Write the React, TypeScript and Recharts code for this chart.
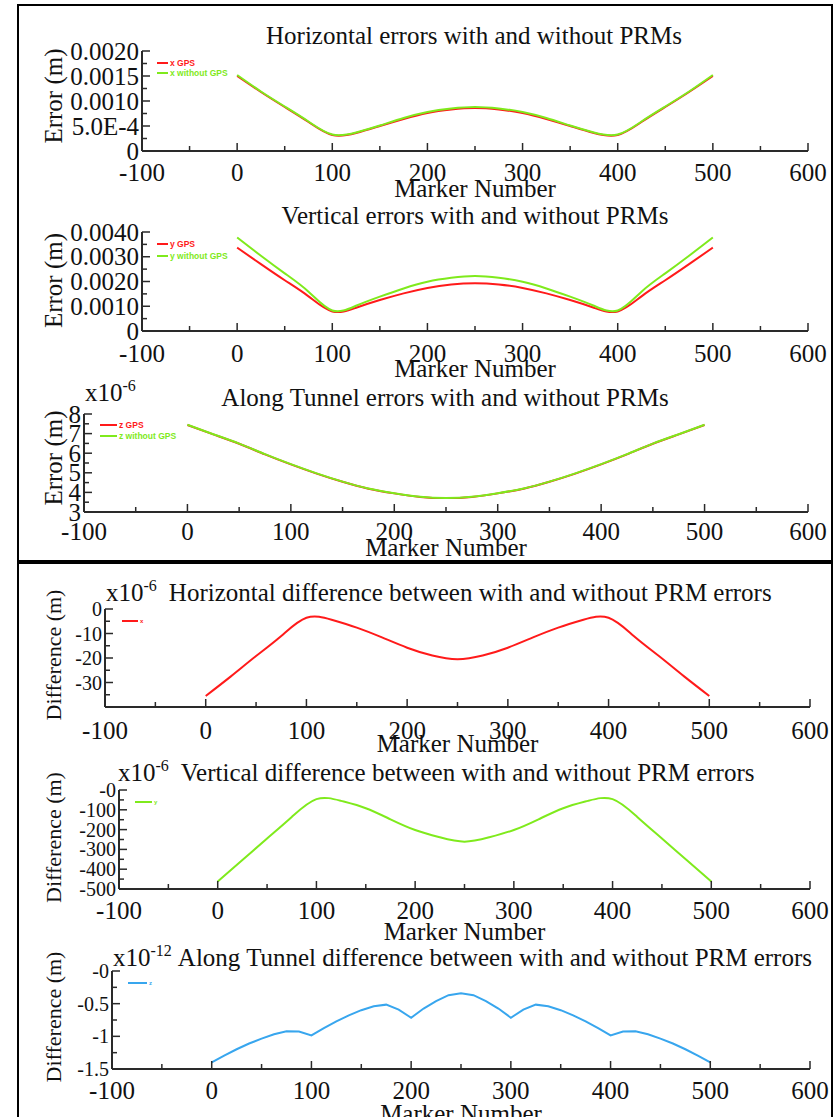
import React from 'react';
import { LineChart, Line, XAxis, YAxis, Legend } from 'recharts';

// marker numbers used for the smooth curves (panels 1-5), evenly spaced for the spline
const markers = [0, 25, 50, 75, 100, 125, 150, 175, 200, 225, 250, 275, 300, 325, 350, 375, 400, 425, 450, 475, 500];

const xGps = [0.0015, 0.00118, 0.00088, 0.00058, 0.00032, 0.00036, 0.0005, 0.00064, 0.00076, 0.00083, 0.00086, 0.00083, 0.00076, 0.00064, 0.0005, 0.00036, 0.00032, 0.00058, 0.00088, 0.00118, 0.0015];
const xNoGps = [0.00152, 0.00119, 0.00089, 0.00059, 0.00033, 0.00037, 0.00051, 0.00066, 0.00078, 0.00085, 0.00088, 0.00085, 0.00078, 0.00066, 0.00051, 0.00037, 0.00033, 0.00059, 0.00089, 0.00119, 0.00152];
const yGps = [0.00337, 0.0027, 0.00205, 0.0014, 0.00079, 0.00094, 0.00125, 0.00152, 0.00174, 0.00188, 0.00193, 0.00188, 0.00174, 0.00152, 0.00125, 0.00094, 0.00079, 0.0014, 0.00205, 0.0027, 0.00337];
const yNoGps = [0.00378, 0.00304, 0.00233, 0.00159, 0.00083, 0.00102, 0.00139, 0.00172, 0.00199, 0.00215, 0.00222, 0.00215, 0.00199, 0.00172, 0.00139, 0.00102, 0.00083, 0.00159, 0.00233, 0.00304, 0.00378];
const zGps = [7.44, 6.96, 6.48, 5.94, 5.43, 4.96, 4.54, 4.19, 3.95, 3.77, 3.71, 3.77, 3.95, 4.19, 4.54, 4.96, 5.43, 5.94, 6.48, 6.96, 7.44];
const zNoGps = [7.45, 6.97, 6.49, 5.95, 5.44, 4.97, 4.55, 4.2, 3.96, 3.78, 3.72, 3.78, 3.96, 4.2, 4.55, 4.97, 5.44, 5.95, 6.49, 6.97, 7.45];
const xDiff = [-35.5, -27.5, -19.2, -11, -3.6, -4.4, -7.6, -11.6, -15.8, -19, -20.5, -19, -15.8, -11.6, -7.6, -4.4, -3.6, -11, -19.2, -27.5, -35.5];
const yDiff = [-462, -354, -245, -136, -46, -55, -92, -148, -202, -239, -261, -239, -202, -148, -92, -55, -46, -136, -245, -354, -462];

// along-tunnel difference has cusps, so it gets a finer marker list
const markersFine = [0, 12.5, 25, 37.5, 50, 62.5, 75, 87.5, 100, 112.5, 125, 137.5, 150, 162.5, 175, 187.5, 200, 212.5, 225, 237.5, 250, 262.5, 275, 287.5, 300, 312.5, 325, 337.5, 350, 362.5, 375, 387.5, 400, 412.5, 425, 437.5, 450, 462.5, 475, 487.5, 500];
const zDiff = [-1.4, -1.295, -1.198, -1.11, -1.035, -0.968, -0.922, -0.925, -0.985, -0.875, -0.772, -0.68, -0.6, -0.54, -0.515, -0.59, -0.715, -0.575, -0.46, -0.37, -0.34, -0.37, -0.46, -0.575, -0.715, -0.59, -0.515, -0.54, -0.6, -0.68, -0.772, -0.875, -0.985, -0.925, -0.922, -0.968, -1.035, -1.11, -1.198, -1.295, -1.4];

const xTicks = [-100, -50, 0, 50, 100, 150, 200, 250, 300, 350, 400, 450, 500, 550, 600];
const xMajor = [-100, 0, 100, 200, 300, 400, 500, 600];

const y1Major = [0, 0.0005, 0.001, 0.0015, 0.002];
const y1Labels = ['0', '5.0E-4', '0.0010', '0.0015', '0.0020'];
const y1Minor = [0.00025, 0.00075, 0.00125, 0.00175];
const y2Major = [0, 0.001, 0.002, 0.003, 0.004];
const y2Labels = ['0', '0.0010', '0.0020', '0.0030', '0.0040'];
const y2Minor = [0.0005, 0.0015, 0.0025, 0.0035];
const y3Major = [3, 4, 5, 6, 7, 8];
const y3Labels = ['3', '4', '5', '6', '7', '8'];
const y3Minor = [3.5, 4.5, 5.5, 6.5, 7.5];
const y4Major = [0, -10, -20, -30, -40];
const y4Labels = ['0', '-10', '-20', '-30', ''];
const y4Minor = [-5, -15, -25, -35];
const y5Major = [0, -100, -200, -300, -400, -500];
const y5Labels = ['-0', '-100', '-200', '-300', '-400', '-500'];
const y5Minor = [-50, -150, -250, -350, -450];
const y6Major = [0, -0.5, -1, -1.5];
const y6Labels = ['-0', '-0.5', '-1', '-1.5'];
const y6Minor = [-0.25, -0.75, -1.25];

const RED = '#ff1a1a';
const GREEN = '#7fea1c';
const BLUE = '#38a6ee';
const FRAME = '#2a2a2a';
const SERIF = '"Liberation Serif", "Times New Roman", serif';
const SANS = '"Liberation Sans", Arial, sans-serif';
const W = 834;
const PAD = 40;
const XAXIS_H = 70;

type Series = { name: string; values: number[]; color: string };

interface PanelProps {
  top: number;
  bottom: number;
  left: number;
  right: number;
  x: number[];
  series: Series[];
  curve: 'natural' | 'linear';
  yDomain: [number, number];
  yMajor: number[];
  yLabels: string[];
  yMinor: number[];
  yFont: number;
  yTitle: string;
  yTitleFont: number;
  yTitleShift: number;
  xLabelGap: number;
  xTitleGap: number;
  legendTop: number;
  legendLeft: number;
  legendLine: number;
  legendRow: number;
  legendFont: number;
}

function Panel(p: PanelProps) {
  const chartTop = p.top - PAD;
  const plotBottom = PAD + (p.bottom - p.top);
  const midY = PAD + (p.bottom - p.top) / 2 + p.yTitleShift;
  const data = p.x.map((m, i) => {
    const row: Record<string, number> = { m };
    p.series.forEach(s => { row[s.name] = s.values[i]; });
    return row;
  });
  const yTicks = [...p.yMajor, ...p.yMinor].sort((a, b) => a - b);
  const line = { stroke: FRAME, strokeWidth: 2 };

  const bottomTick = (t: any) => {
    const v = t.payload.value;
    const major = xMajor.includes(v);
    return (
      <g>
        <line x1={t.x} x2={t.x} y1={plotBottom} y2={plotBottom - (major ? 8 : 5)} stroke={FRAME} strokeWidth={1.5} />
        {major && (
          <text x={t.x} y={plotBottom + p.xLabelGap} textAnchor="middle" dominantBaseline="central" fontFamily={SERIF} fontSize={25} fill="#111">{v}</text>
        )}
      </g>
    );
  };
  const topTick = (t: any) => {
    const major = xMajor.includes(t.payload.value);
    return <line x1={t.x} x2={t.x} y1={PAD} y2={PAD + (major ? 8 : 5)} stroke={FRAME} strokeWidth={1.5} />;
  };
  const leftTick = (t: any) => {
    const idx = p.yMajor.indexOf(t.payload.value);
    return (
      <g>
        <line x1={p.left} x2={p.left + (idx >= 0 ? 8 : 5)} y1={t.y} y2={t.y} stroke={FRAME} strokeWidth={1.5} />
        {idx >= 0 && (
          <text x={p.left - 3} y={t.y} textAnchor="end" dominantBaseline="central" fontFamily={SERIF} fontSize={p.yFont} fill="#111">{p.yLabels[idx]}</text>
        )}
      </g>
    );
  };
  const rightTick = (t: any) => {
    const major = p.yMajor.includes(t.payload.value);
    return <line x1={p.right} x2={p.right - (major ? 8 : 5)} y1={t.y} y2={t.y} stroke={FRAME} strokeWidth={1.5} />;
  };

  const xTitle = () => (
    <text x={(p.left + p.right) / 2} y={plotBottom + p.xTitleGap} textAnchor="middle" dominantBaseline="central" fontFamily={SERIF} fontSize={25} fill="#111">Marker Number</text>
  );
  const yTitle = () => (
    <text x={53} y={midY} transform={`rotate(-90, 53, ${midY})`} textAnchor="middle" dominantBaseline="central" fontFamily={SERIF} fontSize={p.yTitleFont} fill="#111">{p.yTitle}</text>
  );

  const legend = (props: any) => (
    <div>
      {(props.payload || []).map((e: any) => (
        <div key={e.value} style={{ display: 'flex', alignItems: 'center', height: p.legendRow }}>
          <span style={{ width: p.legendLine, height: 2, background: e.color, marginRight: 2 }} />
          <span style={{ color: e.color, fontFamily: SANS, fontWeight: 'bold', fontSize: p.legendFont, whiteSpace: 'nowrap' }}>{e.value}</span>
        </div>
      ))}
    </div>
  );

  return (
    <div style={{ position: 'absolute', left: 0, top: chartTop }}>
      <LineChart width={W} height={plotBottom + XAXIS_H} data={data} margin={{ top: PAD, right: W - p.right, bottom: 0, left: 0 }}>
        <XAxis dataKey="m" type="number" domain={[-100, 600]} ticks={xTicks} interval={0} allowDataOverflow height={XAXIS_H}
          tickLine={false} tickSize={0} tickMargin={0} tick={bottomTick} axisLine={line} label={xTitle} />
        <XAxis xAxisId="top" orientation="top" type="number" domain={[-100, 600]} ticks={xTicks} interval={0} allowDataOverflow height={0}
          tickLine={false} tickSize={0} tickMargin={0} tick={topTick} axisLine={line} />
        <YAxis type="number" domain={p.yDomain} ticks={yTicks} interval={0} allowDataOverflow width={p.left}
          tickLine={false} tickSize={0} tickMargin={0} tick={leftTick} axisLine={line} label={yTitle} />
        <YAxis yAxisId="right" orientation="right" type="number" domain={p.yDomain} ticks={yTicks} interval={0} allowDataOverflow width={0}
          tickLine={false} tickSize={0} tickMargin={0} tick={rightTick} axisLine={line} />
        <Legend layout="vertical" verticalAlign="middle" align="center" content={legend}
          wrapperStyle={{ left: p.legendLeft, top: p.legendTop - p.legendRow / 2 - chartTop, width: 'auto', height: 'auto' }} />
        {p.series.map(s => (
          <Line key={s.name} type={p.curve} dataKey={s.name} name={s.name} stroke={s.color} strokeWidth={2} dot={false} isAnimationActive={false} />
        ))}
      </LineChart>
    </div>
  );
}

const titleStyle: React.CSSProperties = {
  position: 'absolute', fontFamily: SERIF, fontSize: 25, lineHeight: '25px', whiteSpace: 'nowrap', color: '#111',
};
const supStyle: React.CSSProperties = { fontSize: 16, position: 'relative', top: -10 };

function Centered({ cx, cy, text }: { cx: number; cy: number; text: string }) {
  return <div style={{ ...titleStyle, left: cx - 400, width: 800, top: cy - 12.5, textAlign: 'center' }}>{text}</div>;
}

function Scaled({ left, cy, exp, gap, text }: { left: number; cy: number; exp: string; gap: number; text: string }) {
  return (
    <div style={{ ...titleStyle, left, top: cy - 12.5 }}>
      x10<span style={supStyle}>{exp}</span>
      <span style={{ marginLeft: gap }}>{text}</span>
    </div>
  );
}

export default function App() {
  return (
    <div style={{ position: 'absolute', left: 0, top: 0, width: W, height: 1117, background: '#fff', overflow: 'hidden' }}>
      <div style={{ position: 'absolute', left: 17, top: 4, width: 812, height: 554, border: '2px solid #000' }} />
      <div style={{ position: 'absolute', left: 17, top: 562, width: 812, height: 560, border: '2px solid #000' }} />

      <Panel top={51} bottom={151} left={142} right={808} x={markers} curve="natural"
        series={[{ name: 'x GPS', values: xGps, color: RED }, { name: 'x without GPS', values: xNoGps, color: GREEN }]}
        yDomain={[0, 0.002]} yMajor={y1Major} yLabels={y1Labels} yMinor={y1Minor} yFont={25}
        yTitle="Error (m)" yTitleFont={25} yTitleShift={-5} xLabelGap={21} xTitleGap={37}
        legendTop={63} legendLeft={157} legendLine={11} legendRow={10} legendFont={8.5} />
      <Panel top={232} bottom={331} left={142} right={808} x={markers} curve="natural"
        series={[{ name: 'y GPS', values: yGps, color: RED }, { name: 'y without GPS', values: yNoGps, color: GREEN }]}
        yDomain={[0, 0.004]} yMajor={y2Major} yLabels={y2Labels} yMinor={y2Minor} yFont={25}
        yTitle="Error (m)" yTitleFont={25} yTitleShift={-1} xLabelGap={22} xTitleGap={37}
        legendTop={244} legendLeft={157} legendLine={11} legendRow={12} legendFont={8.5} />
      <Panel top={414} bottom={512} left={84} right={808} x={markers} curve="natural"
        series={[{ name: 'z GPS', values: zGps, color: RED }, { name: 'z without GPS', values: zNoGps, color: GREEN }]}
        yDomain={[3, 8]} yMajor={y3Major} yLabels={y3Labels} yMinor={y3Minor} yFont={25}
        yTitle="Error (m)" yTitleFont={25} yTitleShift={-5} xLabelGap={19} xTitleGap={35}
        legendTop={425} legendLeft={100} legendLine={17} legendRow={11} legendFont={8.5} />
      <Panel top={609} bottom={707} left={105} right={810} x={markers} curve="natural"
        series={[{ name: 'x', values: xDiff, color: RED }]}
        yDomain={[-40, 0]} yMajor={y4Major} yLabels={y4Labels} yMinor={y4Minor} yFont={20}
        yTitle="Difference (m)" yTitleFont={22} yTitleShift={-3} xLabelGap={23} xTitleGap={36}
        legendTop={621} legendLeft={122} legendLine={16} legendRow={10} legendFont={6} />
      <Panel top={790} bottom={889} left={119} right={810} x={markers} curve="natural"
        series={[{ name: 'y', values: yDiff, color: GREEN }]}
        yDomain={[-500, 0]} yMajor={y5Major} yLabels={y5Labels} yMinor={y5Minor} yFont={20}
        yTitle="Difference (m)" yTitleFont={22} yTitleShift={-2} xLabelGap={21} xTitleGap={42}
        legendTop={802} legendLeft={135} legendLine={17} legendRow={10} legendFont={6} />
      <Panel top={971} bottom={1069} left={112} right={810} x={markersFine} curve="linear"
        series={[{ name: 'z', values: zDiff, color: BLUE }]}
        yDomain={[-1.5, 0]} yMajor={y6Major} yLabels={y6Labels} yMinor={y6Minor} yFont={20}
        yTitle="Difference (m)" yTitleFont={22} yTitleShift={-3} xLabelGap={21} xTitleGap={44}
        legendTop={983} legendLeft={128} legendLine={19} legendRow={10} legendFont={6} />

      <Centered cx={474} cy={35} text="Horizontal errors with and without PRMs" />
      <Centered cx={475} cy={215} text="Vertical errors with and without PRMs" />
      <Centered cx={445} cy={397} text="Along Tunnel errors with and without PRMs" />
      <Scaled left={85} cy={392} exp="-6" gap={0} text="" />
      <Scaled left={106} cy={592} exp="-6" gap={12} text="Horizontal difference between with and without PRM errors" />
      <Scaled left={118} cy={772} exp="-6" gap={12} text="Vertical difference between with and without PRM errors" />
      <Scaled left={113} cy={957} exp="-12" gap={6} text="Along Tunnel difference between with and without PRM errors" />
    </div>
  );
}
